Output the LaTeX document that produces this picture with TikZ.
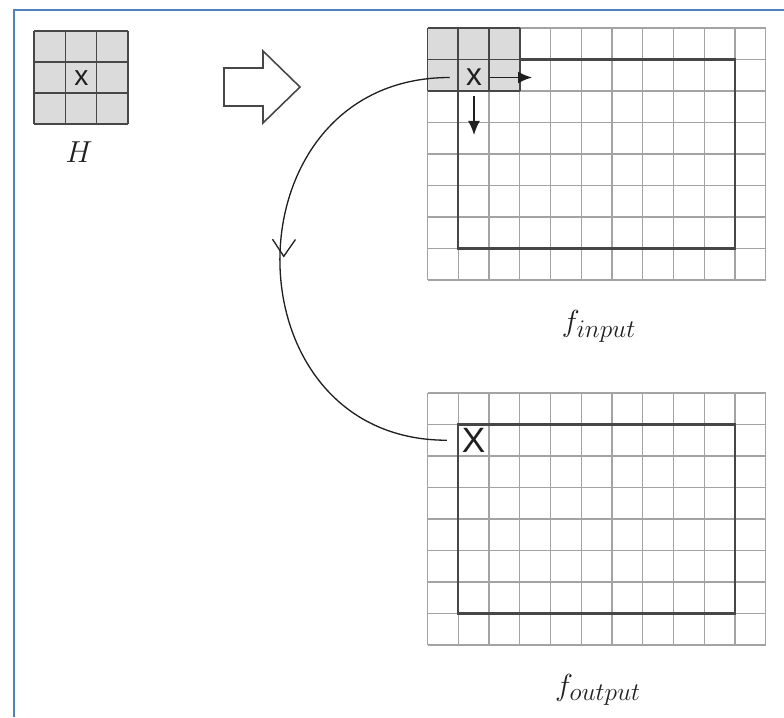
\documentclass[tikz,border=0pt]{standalone}
\usepackage{fontspec}
\newfontfamily\cellfont{Liberation Sans}
\usetikzlibrary{arrows.meta,decorations.markings}

\begin{document}
\begin{tikzpicture}[gridline/.style={line width=0.7pt, cvGrid}, kgrid/.style={line width=0.9pt, cvDark}, window/.style={line width=1.4pt, cvDark}, frameline/.style={line width=1.3pt, cvBlue}, kernel/.style={fill=cvShade}, hollow/.style={fill=white, draw=cvDark, line width=0.9pt, line join=miter}, cellx/.style={font=\cellfont\fontsize{16}{18}\selectfont, inner sep=0pt, text=cvInk}, mathtag/.style={font=\fontsize{19}{22}\selectfont, text=cvInk}, move/.style={-{Latex[length=2.8mm,width=2.4mm]}, line width=1pt, cvInk}, sweep/.style={line width=0.75pt, cvInk, postaction={decorate}, decoration={markings, mark=at position 0.5 with {\arrow{Straight Barb[length=3.4mm,width=4.6mm,line width=0.75pt]}}}}]
\definecolor{cvBlue}{rgb}{0.31,0.51,0.74}
\definecolor{cvGrid}{rgb}{0.64,0.64,0.64}
\definecolor{cvDark}{rgb}{0.28,0.28,0.28}
\definecolor{cvShade}{rgb}{0.86,0.86,0.86}
\definecolor{cvInk}{rgb}{0.12,0.12,0.12}
\useasboundingbox (0,0) rectangle (15.68,14.34);
\draw[frameline] (0.28,0) -- (0.28,14.14) -- (15.68,14.14);
% kernel H
\fill[kernel] (0.68,11.86) rectangle (2.56,13.72);
\begin{scope}[shift={(0.68,11.86)}]
\draw[kgrid, xstep=0.627, ystep=0.62] (0,0) grid (1.885,1.865);
\end{scope}
\node[cellx] (xh) at (1.63,12.77) {x};
\node[mathtag] (hname) at (1.58,11.30) {$H$};
% block arrow
\draw[hollow] (4.48,12.98) -- (5.26,12.98) -- (5.26,13.32) -- (6.00,12.60) -- (5.26,11.88) -- (5.26,12.22) -- (4.48,12.22) -- cycle;
% input image
\begin{scope}[shift={(8.55,8.74)}]
\draw[gridline, xstep=0.615, ystep=0.63] (0,0) grid (6.77,5.045);
\draw[window] (0.615,0.63) rectangle (6.15,4.41);
\begin{scope}[shift={(0,3.78)}]
\fill[kernel] (0,0) rectangle (1.845,1.26);
\draw[kgrid, xstep=0.615, ystep=0.63] (0,0) grid (1.846,1.261);
\end{scope}
\end{scope}
\node[cellx, font=\cellfont\fontsize{18}{20}\selectfont] (xin) at (9.48,12.79) {x};
\coordinate (rstop) at (10.64,12.79);
\coordinate (dstop) at (9.48,11.64);
\draw[move, shorten <=0.16cm] (xin) -- (rstop);
\draw[move, shorten <=0.2cm] (xin) -- (dstop);
\node[mathtag] (fin) at (11.98,7.82) {$f_{input}$};
% output image
\begin{scope}[shift={(8.55,1.44)}]
\draw[gridline, xstep=0.615, ystep=0.63] (0,0) grid (6.77,5.045);
\draw[window] (0.615,0.63) rectangle (6.15,4.41);
\end{scope}
\node[cellx, font=\cellfont\fontsize{20}{22}\selectfont] (xout) at (9.47,5.535) {X};
\node[mathtag] (fout) at (11.96,0.54) {$f_{output}$};
\draw[sweep, shorten <=0.32cm, shorten >=0.29cm] (xin) .. controls +(-5,0) and +(-5,0) .. (xout);
\end{tikzpicture}
\end{document}
